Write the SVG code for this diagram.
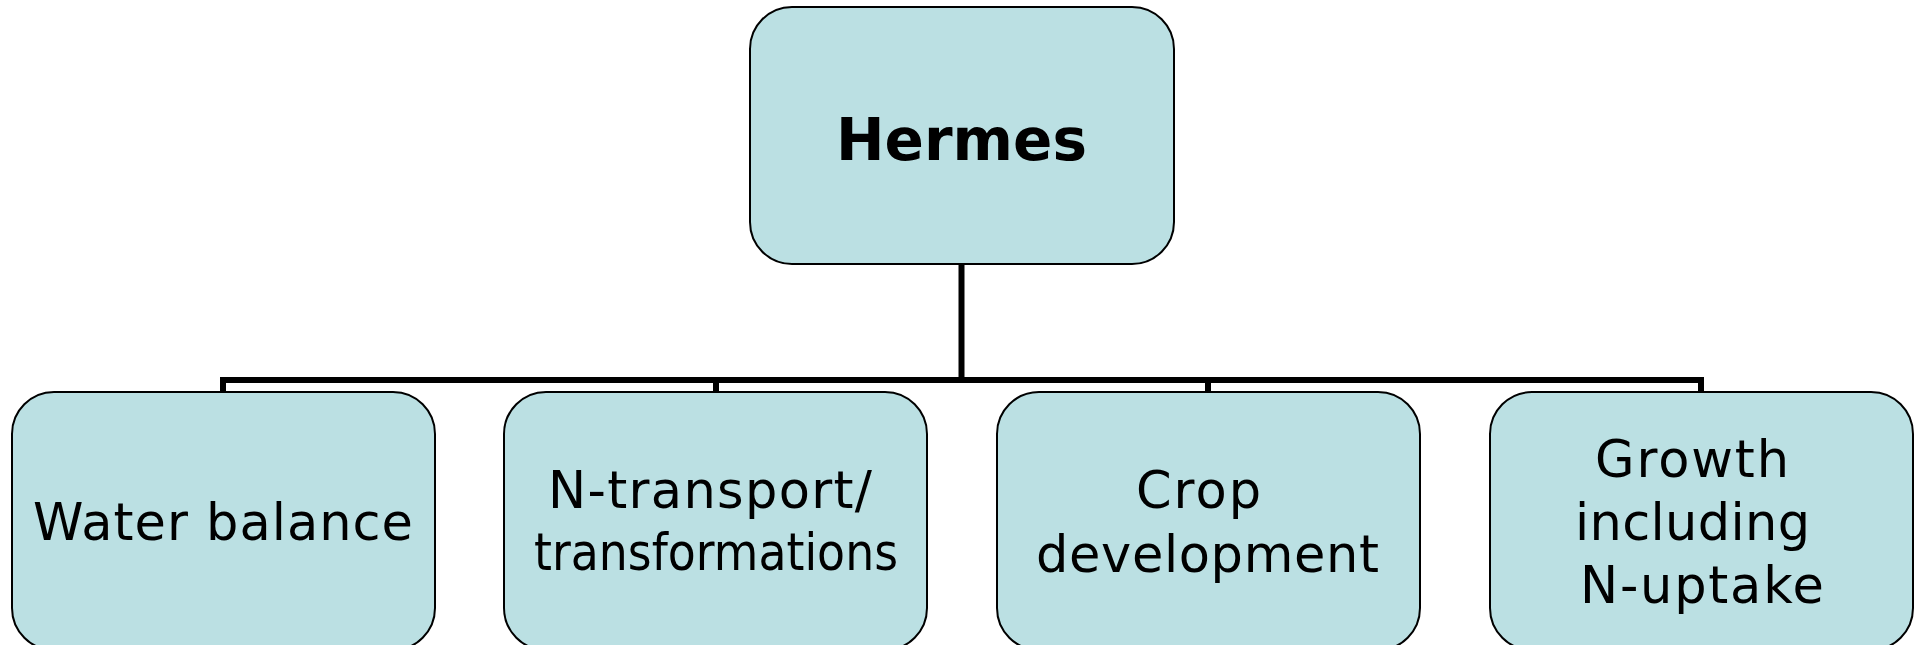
<svg xmlns="http://www.w3.org/2000/svg" width="1921" height="645" viewBox="0 0 1921 645">
  <style>
    .box { fill: #BBE0E3; stroke: #000; stroke-width: 2; }
    .lbl { font-family: "DejaVu Sans", "Verdana", sans-serif; font-size: 51px; fill: #000; text-anchor: middle; }
    .title { font-family: "DejaVu Sans", "Verdana", sans-serif; font-size: 58px; font-weight: bold; fill: #000; text-anchor: middle; }
    .link { fill: none; stroke: #000; stroke-width: 6; stroke-linejoin: miter; stroke-linecap: butt; }
  </style>

  <!-- tree connectors -->
  <g id="connectors">
    <path class="link" d="M961.5 264 V380"/>
    <path class="link" d="M223 392 V380 H1701 V392"/>
    <path class="link" d="M716 380 V392"/>
    <path class="link" d="M1208 380 V392"/>
  </g>

  <!-- root -->
  <g id="node-hermes">
    <rect class="box" x="750" y="7" width="424" height="257" rx="42" ry="42"/>
    <text class="title" x="961.5" y="160" textLength="251">Hermes</text>
  </g>

  <!-- children -->
  <g id="node-water">
    <rect class="box" x="12" y="392" width="423" height="258" rx="42" ry="42"/>
    <text class="lbl" x="223" y="540" textLength="380">Water balance</text>
  </g>

  <g id="node-ntransport">
    <rect class="box" x="504" y="392" width="423" height="258" rx="42" ry="42"/>
    <text class="lbl" x="710" y="508" textLength="324">N-transport/</text>
    <text class="lbl" x="716" y="570" textLength="364" lengthAdjust="spacingAndGlyphs">transformations</text>
  </g>

  <g id="node-crop">
    <rect class="box" x="997" y="392" width="423" height="258" rx="42" ry="42"/>
    <text class="lbl" x="1198.5" y="508" textLength="125">Crop</text>
    <text class="lbl" x="1207.5" y="572" textLength="343">development</text>
  </g>

  <g id="node-growth">
    <rect class="box" x="1490" y="392" width="423" height="258" rx="42" ry="42"/>
    <text class="lbl" x="1692" y="477" textLength="194">Growth</text>
    <text class="lbl" x="1692.5" y="540" textLength="235">including</text>
    <text class="lbl" x="1702" y="603" textLength="244">N-uptake</text>
  </g>
</svg>
